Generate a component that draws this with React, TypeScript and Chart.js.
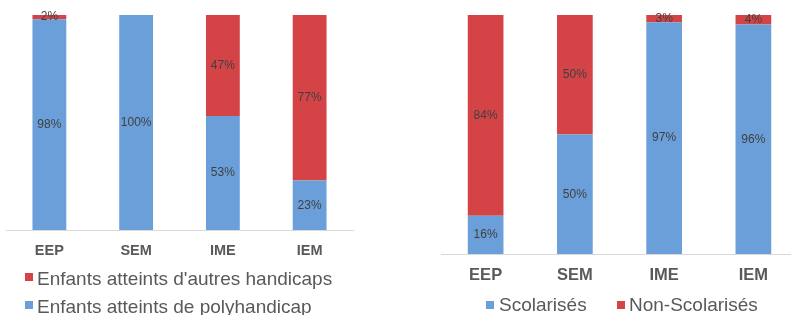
import React, { useEffect, useRef } from 'react';
import { Chart, registerables } from 'chart.js';

Chart.register(...registerables);

const categories = ['EEP', 'SEM', 'IME', 'IEM'];
const leftPolyhandicap = [98, 100, 53, 23];
const leftAutres = [2, 0, 47, 77];
const rightScolarises = [16, 50, 97, 96];
const rightNonScolarises = [84, 50, 3, 4];

const BLUE = '#6A9FDA';
const RED = '#D44447';
const FONT = '"Liberation Sans", Arial, sans-serif';

const segLabels = {
  id: 'segLabels',
  afterDatasetsDraw(chart: any, _args: any, opts: any) {
    const ctx = chart.ctx;
    ctx.save();
    ctx.font = `${opts.size || 12}px ${FONT}`;
    ctx.fillStyle = '#404040';
    ctx.textAlign = 'center';
    ctx.textBaseline = 'middle';
    chart.data.datasets.forEach((ds: any, di: number) => {
      const meta = chart.getDatasetMeta(di);
      meta.data.forEach((bar: any, i: number) => {
        const v = ds.data[i];
        if (!v) return;
        const { x, y, base } = bar.getProps(['x', 'y', 'base'], true);
        ctx.fillText(v + '%', x, (y + base) / 2);
      });
    });
    ctx.restore();
  },
};

function makeChart(
  canvas: HTMLCanvasElement,
  blue: number[],
  red: number[],
  blueLabel: string,
  redLabel: string,
  o: { padLeft: number; padRight: number; padTop: number; axisH: number; tickSize: number; tickPad: number; barPct: number; labelSize: number }
) {
  return new Chart(canvas, {
    type: 'bar',
    data: {
      labels: categories,
      datasets: [
        { label: blueLabel, data: blue, backgroundColor: BLUE, barPercentage: o.barPct, categoryPercentage: 1 },
        { label: redLabel, data: red, backgroundColor: RED, barPercentage: o.barPct, categoryPercentage: 1 },
      ],
    },
    options: {
      responsive: false,
      animation: false,
      devicePixelRatio: 1,
      layout: { padding: { left: o.padLeft, right: o.padRight, top: o.padTop, bottom: 0 } },
      plugins: {
        legend: { display: false },
        tooltip: { enabled: false },
        segLabels: { size: o.labelSize },
      } as any,
      scales: {
        x: {
          stacked: true,
          grid: { display: false, drawTicks: false },
          border: { display: true, color: '#D9D9D9', width: 1 },
          ticks: { color: '#595959', padding: o.tickPad, font: { family: FONT, size: o.tickSize, weight: 'bold' } },
          afterFit: (scale: any) => {
            scale.height = o.axisH;
          },
        },
        y: {
          stacked: true,
          display: false,
          min: 0,
          max: 100,
        },
      },
    },
    plugins: [segLabels],
  });
}

export default function App() {
  const leftRef = useRef<HTMLCanvasElement>(null);
  const rightRef = useRef<HTMLCanvasElement>(null);

  useEffect(() => {
    const c1 = makeChart(leftRef.current!, leftPolyhandicap, leftAutres, 'Enfants atteints de polyhandicap', "Enfants atteints d'autres handicaps", {
      padLeft: 6, padRight: 42, padTop: 15, axisH: 32, tickSize: 14.5, tickPad: 12, barPct: 0.39, labelSize: 12,
    });
    const c2 = makeChart(rightRef.current!, rightScolarises, rightNonScolarises, 'Scolarisés', 'Non-Scolarisés', {
      padLeft: 41, padRight: 2, padTop: 15, axisH: 32, tickSize: 16.5, tickPad: 12, barPct: 0.4, labelSize: 12,
    });
    return () => {
      c1.destroy();
      c2.destroy();
    };
  }, []);

  const sq = (left: number, top: number, color: string): React.CSSProperties => ({
    position: 'absolute', left, top, width: 8, height: 8, background: color,
  });
  const txt = (left: number, top: number, size: number): React.CSSProperties => ({
    position: 'absolute', left, top, fontFamily: FONT, fontSize: size, lineHeight: size + 'px', color: '#595959', whiteSpace: 'nowrap',
  });

  return (
    <div style={{ position: 'absolute', left: 0, top: 0, width: 791, height: 315, overflow: 'hidden', background: '#fff' }}>
      <canvas ref={leftRef} width={395} height={262} style={{ position: 'absolute', left: 0, top: 0 }} />
      <canvas ref={rightRef} width={400} height={286} style={{ position: 'absolute', left: 400, top: 0 }} />
      <div style={sq(25, 273, RED)} />
      <span style={txt(37, 269, 19)}>Enfants atteints d'autres handicaps</span>
      <div style={sq(25, 301, BLUE)} />
      <span style={txt(37, 297, 19)}>Enfants atteints de polyhandicap</span>
      <div style={sq(486, 301, BLUE)} />
      <span style={txt(499, 295, 19)}>Scolarisés</span>
      <div style={sq(617, 301, RED)} />
      <span style={txt(629, 295, 19)}>Non-Scolarisés</span>
    </div>
  );
}
